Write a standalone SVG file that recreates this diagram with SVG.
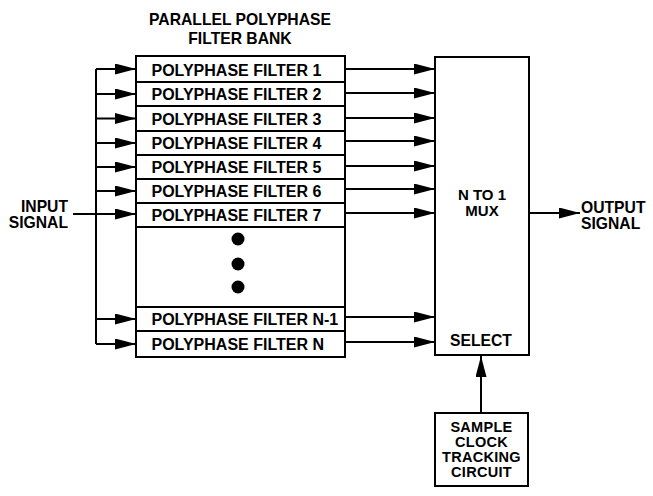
<svg xmlns="http://www.w3.org/2000/svg" width="653" height="496" viewBox="0 0 653 496">
<defs>
<marker id="ah" markerUnits="userSpaceOnUse" markerWidth="21" markerHeight="11" refX="21" refY="5.5" orient="auto">
<path d="M0,0 L21,5.5 L0,11 z" fill="#000"/>
</marker>
<style>
text{font-family:"Liberation Sans",Arial,Helvetica,sans-serif;font-weight:bold;fill:#000}
.t{font-size:15.7px}
.m{font-size:15px}
.f{font-size:16px}
.s{font-size:14.5px;letter-spacing:0.3px}
.c{text-anchor:middle}
.box{fill:#fff;stroke:#000;stroke-width:2}
.ln{stroke:#000;stroke-width:2;fill:none}
.ar{stroke:#000;stroke-width:2;fill:none;marker-end:url(#ah)}
</style>
</defs>
<rect width="653" height="496" fill="#fff"/>
<text class="t c" x="240" y="25">PARALLEL POLYPHASE</text>
<text class="t c" x="240" y="43.5">FILTER BANK</text>
<g id="filterbank">
<rect class="box" x="136" y="56" width="209" height="301"/>
<line class="ln" x1="136" y1="82" x2="345" y2="82"/>
<line class="ln" x1="136" y1="106" x2="345" y2="106"/>
<line class="ln" x1="136" y1="131" x2="345" y2="131"/>
<line class="ln" x1="136" y1="155" x2="345" y2="155"/>
<line class="ln" x1="136" y1="179" x2="345" y2="179"/>
<line class="ln" x1="136" y1="203" x2="345" y2="203"/>
<line class="ln" x1="136" y1="227" x2="345" y2="227"/>
<line class="ln" x1="136" y1="307" x2="345" y2="307"/>
<line class="ln" x1="136" y1="331" x2="345" y2="331"/>
<circle cx="238" cy="239" r="6.5" fill="#000"/>
<circle cx="238" cy="264" r="6.5" fill="#000"/>
<circle cx="238" cy="287" r="6.5" fill="#000"/>
</g>
<g id="pf1"><text class="f" x="151.5" y="75.5">POLYPHASE FILTER 1</text></g>
<g id="pf2"><text class="f" x="151.5" y="100">POLYPHASE FILTER 2</text></g>
<g id="pf3"><text class="f" x="151.5" y="124.5">POLYPHASE FILTER 3</text></g>
<g id="pf4"><text class="f" x="151.5" y="149">POLYPHASE FILTER 4</text></g>
<g id="pf5"><text class="f" x="151.5" y="173">POLYPHASE FILTER 5</text></g>
<g id="pf6"><text class="f" x="151.5" y="197">POLYPHASE FILTER 6</text></g>
<g id="pf7"><text class="f" x="151.5" y="221">POLYPHASE FILTER 7</text></g>
<g id="pfn1"><text class="f" x="151.5" y="325">POLYPHASE FILTER N-1</text></g>
<g id="pfn"><text class="f" x="151.5" y="350">POLYPHASE FILTER N</text></g>
<g id="mux">
<rect class="box" x="435" y="57" width="94" height="298"/>
<text class="m c" x="482" y="199.5">N TO 1</text>
<text class="m c" x="482" y="216">MUX</text>
<text class="t c" x="481" y="346">SELECT</text>
</g>
<g id="sctc">
<rect class="box" x="435" y="413" width="93" height="73"/>
<text class="s c" x="481.5" y="432">SAMPLE</text>
<text class="s c" x="481.5" y="447">CLOCK</text>
<text class="s c" x="481.5" y="462">TRACKING</text>
<text class="s c" x="481.5" y="477">CIRCUIT</text>
</g>
<g id="input"><text class="t" x="68" y="212" text-anchor="end">INPUT</text><text class="t" x="68" y="228" text-anchor="end">SIGNAL</text></g>
<g id="output"><text class="t" x="581" y="212.5">OUTPUT</text><text class="t" x="581" y="228.5">SIGNAL</text></g>
<g id="connectors">
<line class="ln" x1="96" y1="69" x2="96" y2="344"/>
<line class="ln" x1="73" y1="214" x2="96" y2="214"/>
<line class="ar" x1="96" y1="69" x2="136" y2="69"/>
<line class="ar" x1="96" y1="94" x2="136" y2="94"/>
<line class="ar" x1="96" y1="118.5" x2="136" y2="118.5"/>
<line class="ar" x1="96" y1="143" x2="136" y2="143"/>
<line class="ar" x1="96" y1="167" x2="136" y2="167"/>
<line class="ar" x1="96" y1="191" x2="136" y2="191"/>
<line class="ar" x1="96" y1="214" x2="136" y2="214"/>
<line class="ar" x1="96" y1="319" x2="136" y2="319"/>
<line class="ar" x1="96" y1="344" x2="136" y2="344"/>
<line class="ar" x1="345" y1="69" x2="435" y2="69"/>
<line class="ar" x1="345" y1="93" x2="435" y2="93"/>
<line class="ar" x1="345" y1="118" x2="435" y2="118"/>
<line class="ar" x1="345" y1="141" x2="435" y2="141"/>
<line class="ar" x1="345" y1="166" x2="435" y2="166"/>
<line class="ar" x1="345" y1="189" x2="435" y2="189"/>
<line class="ar" x1="345" y1="213" x2="435" y2="213"/>
<line class="ar" x1="345" y1="317" x2="435" y2="317"/>
<line class="ar" x1="345" y1="342" x2="435" y2="342"/>
<line class="ar" x1="529" y1="213" x2="580" y2="213"/>
<line class="ar" x1="481" y1="413" x2="481" y2="356"/>
</g>
</svg>
